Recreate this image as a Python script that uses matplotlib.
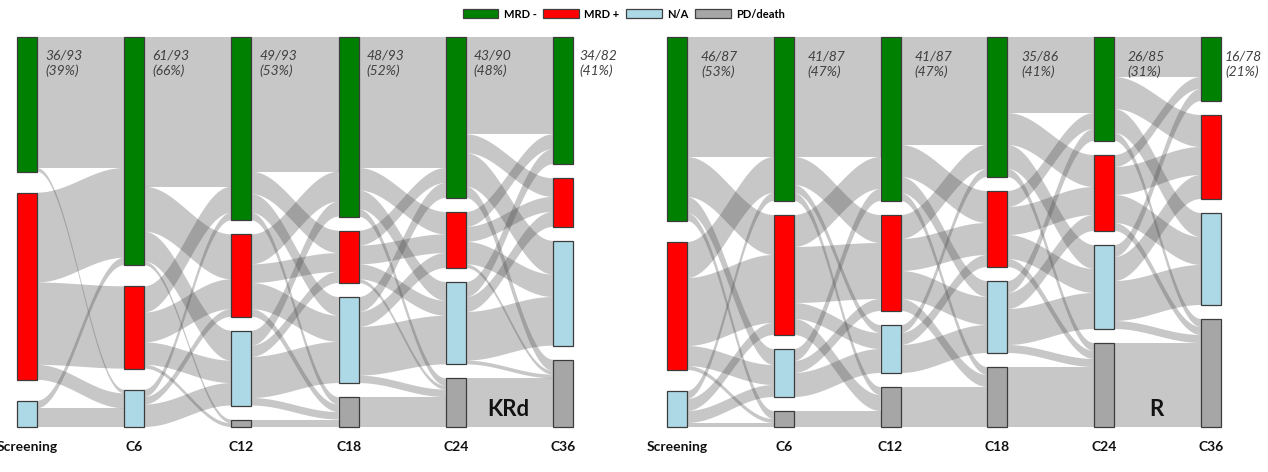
import numpy as np
import matplotlib
matplotlib.use("Agg")
import matplotlib.pyplot as plt
from matplotlib.patches import Rectangle, Patch, Polygon

# ---------------- data ----------------
stages = ["Screening", "C6", "C12", "C18", "C24", "C36"]
categories = ["MRD -", "MRD +", "N/A", "PD/death"]
cat_colors = ["#008000", "#ff0000", "#add8e6", "#a6a6a6"]

# node sizes per stage: [MRD-, MRD+, N/A, PD/death]
krd_counts = [[36, 50, 7, 0], [61, 22, 10, 0], [49, 22, 20, 2],
              [48, 14, 23, 8], [43, 15, 22, 13], [34, 13, 28, 18]]
krd_labels = ["36/93\n(39%)", "61/93\n(66%)", "49/93\n(53%)",
              "48/93\n(52%)", "43/90\n(48%)", "34/82\n(41%)"]
# transitions: rows = source state, cols = target state
krd_flows = [
    [[35, 0, 1, 0], [24, 22, 4, 0], [2, 0, 5, 0], [0, 0, 0, 0]],
    [[40, 12, 8, 1], [7, 8, 6, 1], [2, 2, 6, 0], [0, 0, 0, 0]],
    [[36, 6, 5, 2], [8, 5, 7, 2], [4, 3, 11, 2], [0, 0, 0, 2]],
    [[35, 6, 5, 2], [4, 5, 4, 1], [4, 4, 13, 2], [0, 0, 0, 8]],
    [[26, 5, 9, 3], [4, 4, 6, 1], [4, 4, 13, 1], [0, 0, 0, 13]],
]

r_counts = [[46, 32, 9, 0], [41, 30, 12, 4], [41, 24, 12, 10],
            [35, 19, 18, 15], [26, 19, 21, 21], [16, 21, 23, 27]]
r_labels = ["46/87\n(53%)", "41/87\n(47%)", "41/87\n(47%)",
            "35/86\n(41%)", "26/85\n(31%)", "16/78\n(21%)"]
r_flows = [
    [[30, 10, 4, 2], [9, 17, 5, 1], [2, 3, 3, 1], [0, 0, 0, 0]],
    [[30, 7, 2, 2], [8, 14, 4, 4], [3, 3, 6, 0], [0, 0, 0, 4]],
    [[27, 8, 4, 2], [6, 8, 7, 3], [2, 3, 7, 0], [0, 0, 0, 10]],
    [[19, 8, 6, 2], [4, 7, 6, 2], [3, 4, 9, 2], [0, 0, 0, 15]],
    [[10, 8, 6, 2], [3, 7, 7, 2], [3, 6, 10, 2], [0, 0, 0, 21]],
]

# ---------------- layout helpers ----------------
W_PX, H_PX = 1268, 472
TOP_PX, BOT_PX = 37, 427
FONT = ["Lato", "DejaVu Sans"]


def node_positions(counts, span):
    """top y of each node, stacked with equal gaps, skipping empty nodes"""
    tops = []
    for c in counts:
        nz = [v for v in c if v > 0]
        gap = (span - sum(c)) / max(len(nz) - 1, 1)
        y = 0.0
        t = []
        for v in c:
            t.append(y)
            if v > 0:
                y += v + gap
        tops.append(t)
    return tops


def draw_panel(ax, counts, flows, labels, span, bar_w, lab_dx):
    tops = node_positions(counts, span)
    t = np.linspace(0, 1, 80)
    s = (1 - np.cos(np.pi * t)) / 2
    for k, F in enumerate(flows):
        F = np.array(F)
        x0 = k + bar_w / 2
        x1 = k + 1 - bar_w / 2
        src_pos = {}
        for i in range(4):
            y = tops[k][i]
            for j in range(4):
                src_pos[(i, j)] = y
                y += F[i, j]
        tgt_pos = {}
        for j in range(4):
            y = tops[k + 1][j]
            for i in range(4):
                tgt_pos[(i, j)] = y
                y += F[i, j]
        for i in range(4):
            for j in range(4):
                v = F[i, j]
                if v <= 0:
                    continue
                a, b = src_pos[(i, j)], tgt_pos[(i, j)]
                xs = x0 + (x1 - x0) * t
                ytop = a + (b - a) * s
                ybot = ytop + v
                poly = np.vstack([np.column_stack([xs, ytop]),
                                  np.column_stack([xs[::-1], ybot[::-1]])])
                ax.add_patch(Polygon(poly, closed=True, facecolor=(0.28, 0.28, 0.28),
                                     alpha=0.30, edgecolor="none", zorder=1))
    for k, c in enumerate(counts):
        for i, v in enumerate(c):
            if v <= 0:
                continue
            ax.add_patch(Rectangle((k - bar_w / 2, tops[k][i]), bar_w, v,
                                   facecolor=cat_colors[i], edgecolor="#3c3c3c",
                                   lw=0.9, zorder=3))
        ax.text(k + bar_w / 2 + lab_dx[k], 3.4, labels[k], ha="left", va="top",
                fontsize=10, style="italic", color="#404040",
                linespacing=1.25, family=FONT, zorder=4)


fig = plt.figure(figsize=(W_PX / 100, H_PX / 100), dpi=100)

panels = [
    dict(counts=krd_counts, flows=krd_flows, labels=krd_labels, left_px=0, right_px=620,
         first_px=27, step_px=107.2, span=104.2, name="KRd",
         lab_px=[8, 8, 8, 8, 8, 6]),
    dict(counts=r_counts, flows=r_flows, labels=r_labels, left_px=630, right_px=1268,
         first_px=677, step_px=106.8, span=97.5, name="R",
         lab_px=[14, 14, 14, 14, 13, 4]),
]

for p in panels:
    ax = fig.add_axes([p["left_px"] / W_PX, 0, (p["right_px"] - p["left_px"]) / W_PX, 1])
    ax.set_axis_off()
    pxu = (BOT_PX - TOP_PX) / p["span"]  # pixels per unit
    ax.set_xlim((p["left_px"] - p["first_px"]) / p["step_px"],
                (p["right_px"] - p["first_px"]) / p["step_px"])
    ax.set_ylim(p["span"] + (H_PX - BOT_PX) / pxu, -TOP_PX / pxu)
    bar_w = 20 / p["step_px"]
    draw_panel(ax, p["counts"], p["flows"], p["labels"], p["span"], bar_w,
               [d / p["step_px"] for d in p["lab_px"]])
    for k, st in enumerate(stages):
        ax.text(k, p["span"] + 20 / pxu, st, ha="center", va="center", fontsize=10,
                fontweight="bold", family=FONT, color="#111111")
    ax.text(4.49, p["span"] - 18 / pxu, p["name"], ha="center", va="center",
            fontsize=16, fontweight="bold", family=FONT, color="#111111", zorder=5)

handles = [Patch(facecolor=c, edgecolor="#404040", lw=0.9) for c in cat_colors]
fig.legend(handles, categories, ncol=4, loc="upper center",
           bbox_to_anchor=(624 / W_PX, 1 - 2 / H_PX), frameon=False,
           prop=dict(family=FONT, weight="bold", size=8),
           handlelength=3.2, handleheight=0.9, handletextpad=0.5,
           columnspacing=0.6, borderaxespad=0.2)

fig.savefig("out.png", dpi=100)
